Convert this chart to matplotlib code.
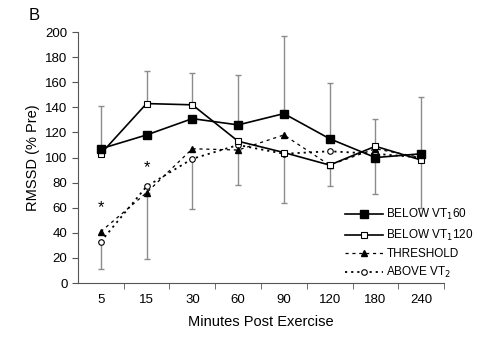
import matplotlib
matplotlib.use("Agg")
import matplotlib.pyplot as plt
import numpy as np

plt.rcParams["font.family"] = ["Liberation Sans", "DejaVu Sans"]

# ─── Data ────────────────────────────────────────────────────────────────────
time_labels = ["5", "15", "30", "60", "90", "120", "180", "240"]

below_vt1_60 = [107, 118, 131, 126, 135, 115, 100, 103]
below_vt1_120 = [103, 143, 142, 113, 104, 94, 109, 98]
threshold = [41, 72, 107, 106, 118, 94, 107, 100]
above_vt2 = [33, 77, 99, 110, 103, 105, 103, 100]

# one-sided SD bars: (series, upper SD) and (series, lower SD) per time point
sd_upper_series = ["60", "120", "120", "60", "60", "60", "120", "60"]
sd_upper = [34, 26, 25, 40, 62, 44, 22, 45]
sd_lower_series = ["above", "thr", "above", "thr", "above", "thr", "60", "120"]
sd_lower = [22, 53, 40, 28, 39, 17, 29, 38]

# significance markers (y position of asterisk)
star_idx = [0, 1]
star_y = [60, 92]
# ─────────────────────────────────────────────────────────────────────────────

series = {"60": below_vt1_60, "120": below_vt1_120, "thr": threshold, "above": above_vt2}
x = np.arange(1, len(time_labels) + 1)

fig = plt.figure(figsize=(4.78, 3.37), dpi=100)
ax = fig.add_axes([0.163, 0.160, 0.766, 0.745])

gray = "#8c8c8c"
for i in range(len(x)):
    up = series[sd_upper_series[i]][i]
    ax.errorbar(x[i], up, yerr=[[0], [sd_upper[i]]], fmt="none", ecolor=gray,
                elinewidth=1.0, capsize=2.5, capthick=1.0, zorder=1)
    lo = series[sd_lower_series[i]][i]
    ax.errorbar(x[i], lo, yerr=[[sd_lower[i]], [0]], fmt="none", ecolor=gray,
                elinewidth=1.0, capsize=2.5, capthick=1.0, zorder=1)

ax.plot(x, above_vt2, linestyle=(0, (1.2, 2.2)), color="black", lw=1.3,
        marker="o", ms=4, mfc="white", mec="black", mew=0.8,
        label="ABOVE VT$_2$", zorder=3)
ax.plot(x, threshold, linestyle=(0, (2.5, 3)), color="black", lw=0.9,
        marker="^", ms=4.5, mfc="black", mec="black",
        label="THRESHOLD", zorder=3)
ax.plot(x, below_vt1_120, linestyle="-", color="black", lw=1.2,
        marker="s", ms=4.2, mfc="white", mec="black", mew=0.8,
        label="BELOW VT$_1$120", zorder=4)
ax.plot(x, below_vt1_60, linestyle="-", color="black", lw=1.2,
        marker="s", ms=6, mfc="black", mec="black",
        label="BELOW VT$_1$60", zorder=5)

for i, sy in zip(star_idx, star_y):
    ax.text(x[i], sy, "*", ha="center", va="center", fontsize=12)

ax.set_xlim(0.5, len(x) + 0.5)
ax.set_ylim(0, 200)
ax.set_yticks(np.arange(0, 201, 20))
ax.set_xticks(x)
ax.set_xticklabels(time_labels)
ax.set_xticks(np.arange(1.5, len(x) + 0.6, 1), minor=True)
ax.tick_params(axis="x", which="major", length=0, pad=8, labelsize=9.5)
ax.tick_params(axis="x", which="minor", length=4, direction="out", color="#555555")
ax.tick_params(axis="y", length=4, direction="out", labelsize=9.5, color="#555555")
for s in ["top", "right"]:
    ax.spines[s].set_visible(False)
for s in ["left", "bottom"]:
    ax.spines[s].set_color("#555555")

ax.set_ylabel("RMSSD (% Pre)", fontsize=10.5, labelpad=4)
ax.set_xlabel("Minutes Post Exercise", fontsize=10.5, labelpad=6)

handles, labels = ax.get_legend_handles_labels()
order = [3, 2, 1, 0]
fig.legend([handles[k] for k in order], [labels[k] for k in order],
           loc="upper left", bbox_to_anchor=(0.722, 0.385), frameon=False,
           fontsize=8.5, handlelength=3.2, handletextpad=0.3,
           labelspacing=0.45, borderpad=0, borderaxespad=0)

fig.text(0.06, 0.955, "B", fontsize=12, ha="left", va="center")

fig.savefig("out.png", dpi=100)
